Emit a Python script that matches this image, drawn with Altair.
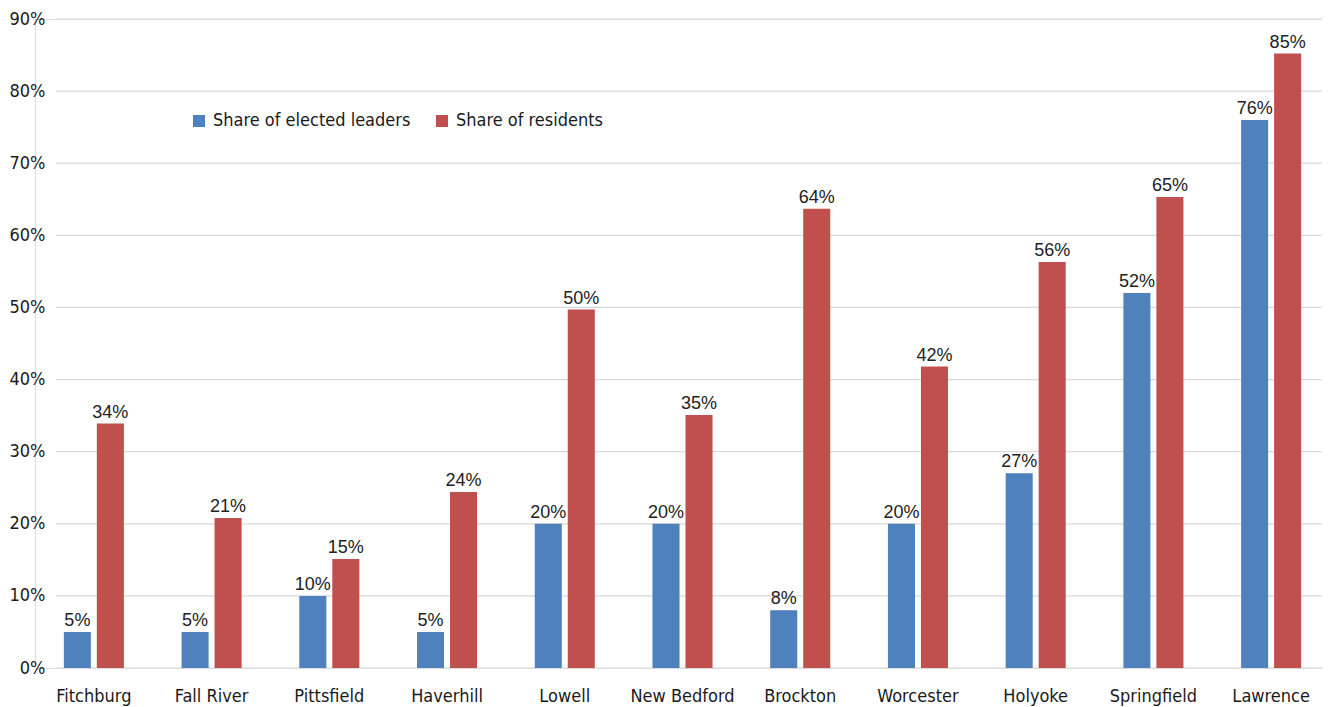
import altair as alt
import pandas as pd

cities = ["Fitchburg", "Fall River", "Pittsfield", "Haverhill", "Lowell", "New Bedford",
          "Brockton", "Worcester", "Holyoke", "Springfield", "Lawrence"]
leaders = [0.05, 0.05, 0.10, 0.05, 0.20, 0.20, 0.08, 0.20, 0.27, 0.52, 0.76]
residents = [0.339, 0.208, 0.151, 0.244, 0.497, 0.351, 0.637, 0.418, 0.563, 0.653, 0.852]
series_names = ["Share of elected leaders", "Share of residents"]
series_colors = ["#4F81BD", "#C0504D"]
grid_values = [0.0, 0.1, 0.2, 0.3, 0.4, 0.5, 0.6, 0.7, 0.8, 0.9]

rows = []
for c, a, b in zip(cities, leaders, residents):
    rows.append({"city": c, "series": series_names[0], "value": a})
    rows.append({"city": c, "series": series_names[1], "value": b})
df = pd.DataFrame(rows)
grid_df = pd.DataFrame({"g": grid_values})

W, H = 1287, 649
BAND_END = 1295
COND = "DejaVu Sans Condensed, sans-serif"

x_enc = alt.X("city:N", sort=cities, title=None,
              scale=alt.Scale(paddingInner=0.49, paddingOuter=0.245, range=[0, BAND_END]),
              axis=alt.Axis(labelAngle=0, ticks=False, tickSize=0, domain=False,
                            labelFont=COND, labelFontSize=18, labelColor="#1a1a1a",
                            labelBaseline="alphabetic", labelPadding=33))
y_enc = alt.Y("value:Q", title=None,
              scale=alt.Scale(domain=[0, 0.9], nice=False),
              axis=alt.Axis(values=grid_values, format=".0%", grid=False, ticks=False,
                            tickSize=0, domain=False, labelFont=COND, labelFontSize=18,
                            labelColor="#1a1a1a", labelPadding=-10, labelAlign="right"))
xo_enc = alt.XOffset("series:N", sort=series_names,
                     scale=alt.Scale(paddingInner=0.18, paddingOuter=0))
color_enc = alt.Color("series:N", sort=series_names,
                      scale=alt.Scale(domain=series_names, range=series_colors),
                      legend=alt.Legend(title=None, orient="none", legendX=155, legendY=93,
                                        direction="horizontal", symbolType="square",
                                        symbolSize=144, symbolStrokeWidth=0,
                                        labelFont=COND, labelFontSize=18, labelLimit=400,
                                        labelColor="#1a1a1a", labelOffset=5,
                                        columnPadding=22))

grid = alt.Chart(grid_df).mark_rule(color="#d9d9d9", strokeWidth=1.2).encode(
    y=alt.Y("g:Q", scale=alt.Scale(domain=[0, 0.9], nice=False)),
    x=alt.value(21), x2=alt.value(BAND_END))

bars = alt.Chart(df).mark_bar().encode(x=x_enc, xOffset=xo_enc, y=y_enc, color=color_enc)

labels = alt.Chart(df).mark_text(baseline="alphabetic", dy=-6, font="Liberation Sans, Arial, sans-serif",
                                 fontSize=18, color="#222222").encode(
    x=alt.X("city:N", sort=cities), xOffset=alt.XOffset("series:N", sort=series_names),
    y="value:Q", text=alt.Text("value:Q", format=".0%"))

chart = alt.layer(grid, bars, labels).properties(
    width=W, height=H,
    autosize=alt.AutoSizeParams(type="none"),
    padding={"left": 27, "top": 11, "right": 0, "bottom": 39},
).configure_view(stroke=None).configure(background="white")

chart.save("out.html", embed_options={"renderer": "svg", "actions": False})
